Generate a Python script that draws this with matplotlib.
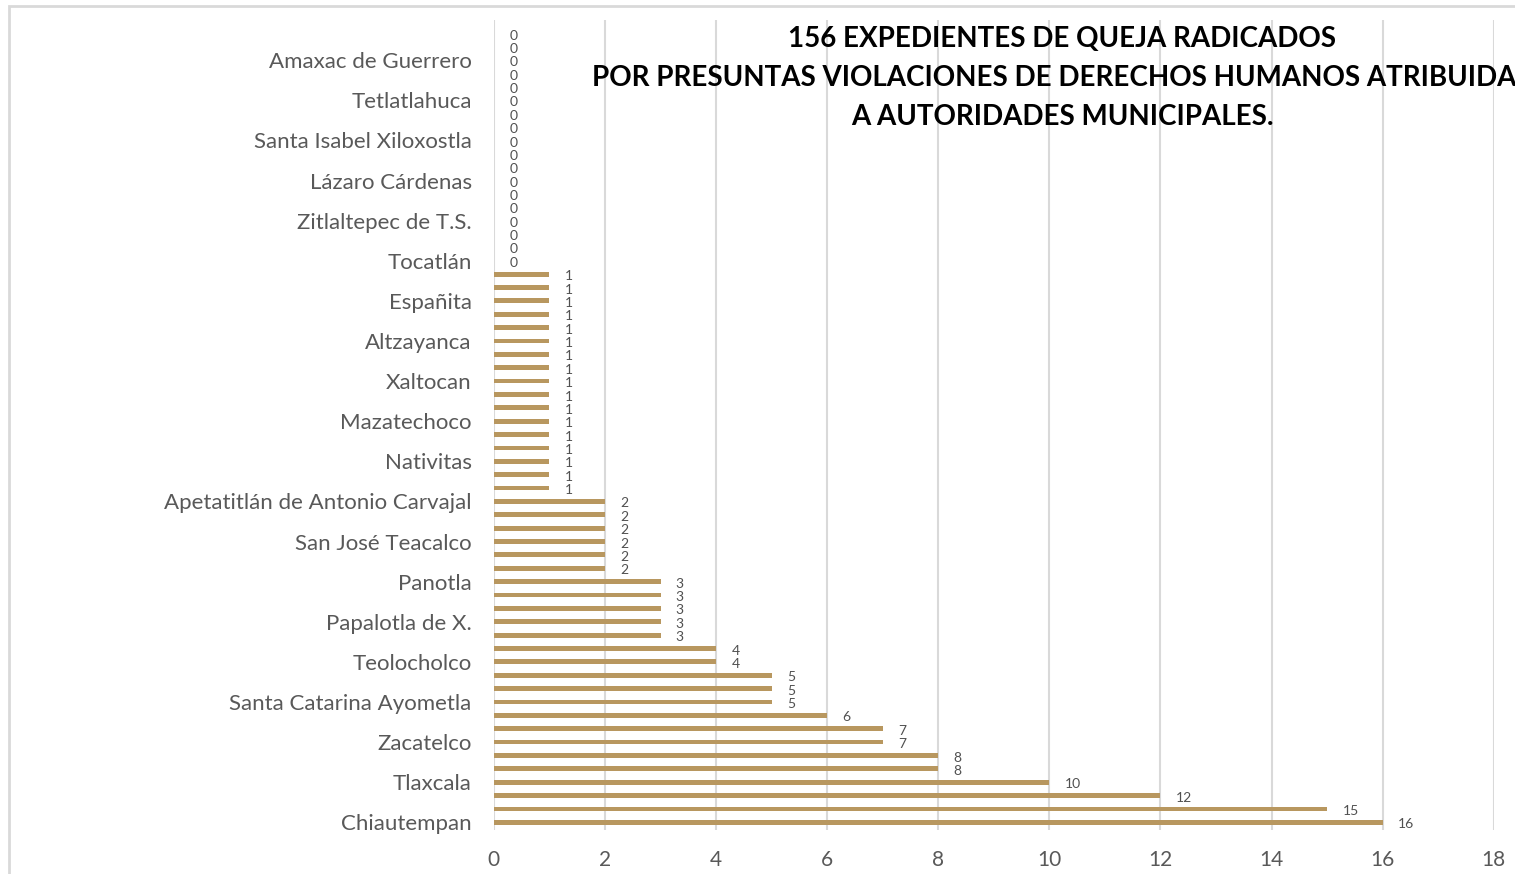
import numpy as np
import matplotlib
matplotlib.use("Agg")
import matplotlib.pyplot as plt
from matplotlib.patches import Rectangle

plt.rcParams['font.family'] = ['Lato', 'DejaVu Sans']

# valores de abajo hacia arriba (60 municipios, suma 156)
valores = [16, 15, 12, 10, 8, 8, 7, 7, 6, 5, 5, 5, 4, 4, 3, 3, 3, 3, 3,
           2, 2, 2, 2, 2, 2] + [1] * 17 + [0] * 18

# solo se ven las etiquetas cada tercer municipio
etiquetas = {
    0: "Chiautempan", 3: "Tlaxcala", 6: "Zacatelco",
    9: "Santa Catarina Ayometla", 12: "Teolocholco", 15: "Papalotla de X.",
    18: "Panotla", 21: "San José Teacalco",
    24: "Apetatitlán de Antonio Carvajal", 27: "Nativitas",
    30: "Mazatechoco", 33: "Xaltocan", 36: "Altzayanca", 39: "Españita",
    42: "Tocatlán", 45: "Zitlaltepec de T.S.", 48: "Lázaro Cárdenas",
    51: "Santa Isabel Xiloxostla", 54: "Tetlatlahuca", 57: "Amaxac de Guerrero",
}

titulo = ("156 EXPEDIENTES DE QUEJA RADICADOS\n"
          "POR PRESUNTAS VIOLACIONES DE DERECHOS HUMANOS ATRIBUIDAS\n"
          "A AUTORIDADES MUNICIPALES.")

fig = plt.figure(figsize=(15.15, 8.74), dpi=100)
ax = fig.add_axes([0.326, 0.050, 0.660, 0.927])

pos = np.arange(len(valores))
ax.barh(pos, valores, height=0.36, color='#B8975F', zorder=3)

for p, v in zip(pos, valores):
    ax.annotate(str(v), (v, p), xytext=(11, -1.5), textcoords='offset points',
                ha='left', va='center', fontsize=10, color='#505050')

ax.set_xlim(0, 18)
ax.set_ylim(-0.6, 60.0)
ax.set_xticks(range(0, 19, 2))
ax.set_yticks(list(etiquetas.keys()))
ax.set_yticklabels(list(etiquetas.values()))
ax.tick_params(axis='x', labelsize=15, colors='#595959', length=0, pad=14)
ax.tick_params(axis='y', labelsize=16, colors='#595959', length=0, pad=16)
ax.grid(axis='x', color='#d9d9d9', linewidth=1.5, zorder=0)
for s in ax.spines.values():
    s.set_visible(False)

fig.text(0.701, 0.970, titulo, ha='center', va='top', fontsize=20,
         fontweight='bold', color='black', linespacing=1.62)

fig.patches.append(Rectangle((0.006, -0.1), 1.1, 1.093, transform=fig.transFigure,
                             fill=False, edgecolor='#d9d9d9', linewidth=2))

fig.savefig("out.png", dpi=100)
